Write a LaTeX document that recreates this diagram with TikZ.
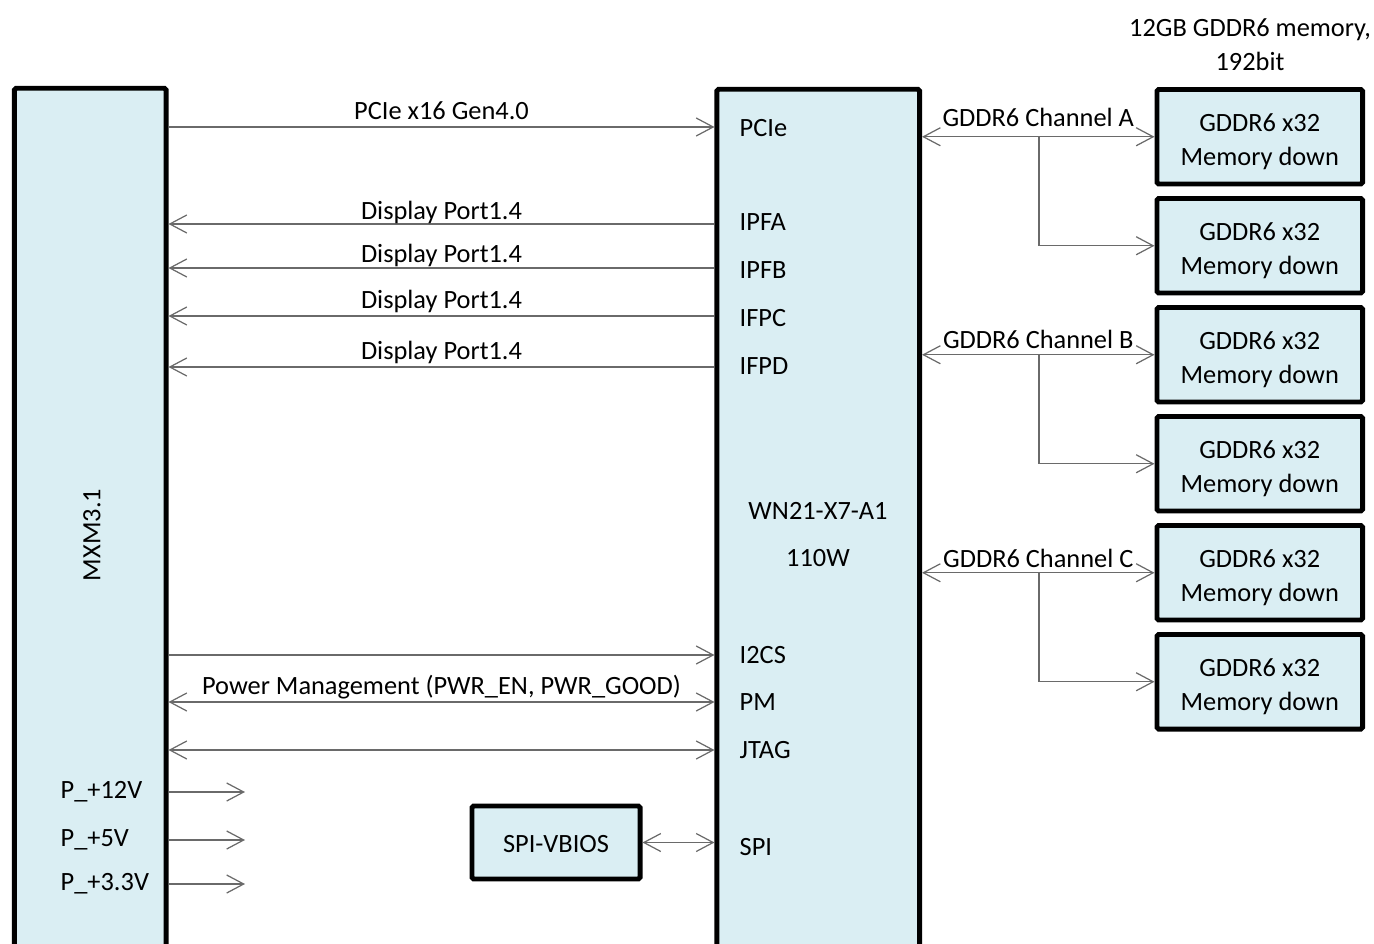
\documentclass[tikz,border=0pt]{standalone}
\usepackage{fontspec}
\setmainfont{Carlito}
\usetikzlibrary{arrows.meta,positioning,calc}
\definecolor{GpuFill}{HTML}{DAEEF3}
\definecolor{GpuWire}{HTML}{6A6A6A}

\begin{document}
\begin{tikzpicture}[x=0.01cm,y=-0.01cm,
    font=\fontsize{7.5}{9.6}\selectfont,
    blockbox/.style={draw=black,line width=1.4pt,fill=GpuFill,rounded corners=0.5pt,inner sep=0pt},
    wire/.style={GpuWire,line width=0.35pt},
    wirelbl/.style={midway,anchor=base,inner sep=0pt,text=black,yshift=#1},
    wirelbl/.default=2pt,
    >={Straight Barb[length=1.7mm,width=1.8mm,line width=0.35pt]}]
    \clip (0,0) rectangle (1374,943);
    % main blocks
    \node[blockbox,minimum width=1.515cm,minimum height=9.2cm] (mxm) at (90.25,548.5) {};
    \node[blockbox,minimum width=2.025cm,minimum height=9.2cm] (chip) at (818.25,549.5) {};
    \node[rotate=90] (mxmlbl) at (92,535) {MXM3.1};
    \node (chiplbl) at (818,511) {WN21-X7-A1};
    \node (chippwr) at (818,558) {110W};
    % memory devices
    \foreach \i in {1,...,6}{
      \node[blockbox,minimum width=2.055cm,minimum height=0.945cm] (mem\i)
        at (1259.75,{136.75+109*(\i-1)}) {};
      \node[align=center,yshift=-0.05cm] (mem\i txt) at (mem\i) {GDDR6 x32\\Memory down};
    }
    \node[align=center] (memcap) at (1250,44.5) {12GB GDDR6 memory,\\192bit};
    \node[blockbox,minimum width=1.68cm,minimum height=0.73cm] (spibox) at (556,842.5) {};
    \node (spitxt) at (556,844) {SPI-VBIOS};
    % chip ports
    \foreach \n/\t/\y in {pcie/PCIe/128,ipfa/IPFA/222,ipfb/IPFB/270,ifpc/IFPC/318,ifpd/IFPD/366,
                          i2cs/I2CS/655,pm/PM/702,jtag/JTAG/750,spi/SPI/847}
      \node[anchor=west,inner sep=0pt] (p\n) at (739,\y) {\t};
    % MXM power rails
    \foreach \n/\t/\y in {a/P\_+12V/792,b/P\_+5V/840,c/P\_+3.3V/884}{
      \node[anchor=west,inner sep=0pt] (rail\n) at (60,\y) {\t};
      \coordinate (rail\n end) at (245,\y);
      \draw[wire,->] (mxm.east |- rail\n) -- (rail\n end);
    }
    % host links
    \draw[wire,->] (mxm.east |- 0,127) -- node[wirelbl=2.2pt] {PCIe x16 Gen4.0} (chip.west |- 0,127);
    \foreach \n/\y/\s in {ipfa/224/1.2pt,ipfb/268/1.7pt,ifpc/316/2.2pt,ifpd/367/2pt}
      \draw[wire,->] (chip.west |- 0,\y) -- node[wirelbl=\s] {Display Port1.4} (mxm.east |- 0,\y);
    \draw[wire,->] (mxm.east |- pi2cs) -- (chip.west |- pi2cs);
    \draw[wire,<->] (mxm.east |- ppm) -- node[wirelbl=2.2pt] {Power Management (PWR\_EN, PWR\_GOOD)} (chip.west |- ppm);
    \draw[wire,<->] (mxm.east |- pjtag) -- (chip.west |- pjtag);
    \draw[wire,<->] (spibox.east) -- (chip.west |- spibox.east);
    % memory channels
    \foreach \a/\b/\c/\s in {1/2/A/3pt,3/4/B/1.8pt,5/6/C/1.6pt}{
      \draw[wire,<->] (chip.east |- mem\a.west) -- node[wirelbl=\s] {GDDR6 Channel \c} (mem\a.west);
      \draw[wire,->] (1039,0 |- mem\a.west) |- (mem\b.west);
    }
\end{tikzpicture}
\end{document}
